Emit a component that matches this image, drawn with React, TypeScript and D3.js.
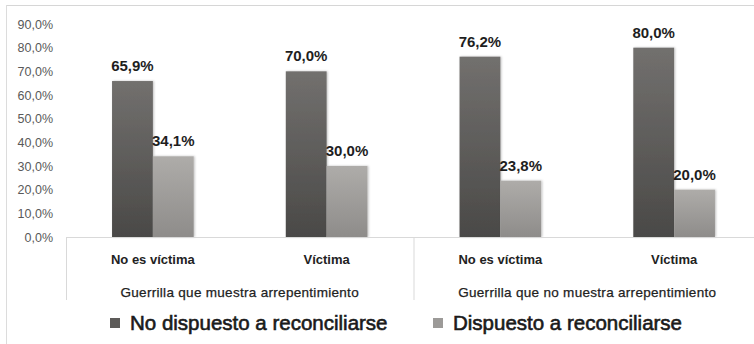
import React from "react";
import * as d3 from "d3";

const groups = ["Guerrilla que muestra arrepentimiento", "Guerrilla que no muestra arrepentimiento"];
const categories = ["No es víctima", "Víctima", "No es víctima", "Víctima"];
const noDispuesto = [65.9, 70.0, 76.2, 80.0];
const dispuesto = [34.1, 30.0, 23.8, 20.0];
const yTicks = [0, 10, 20, 30, 40, 50, 60, 70, 80, 90];
const seriesNames = ["No dispuesto a reconciliarse", "Dispuesto a reconciliarse"];

const fmt = (v: number) => v.toFixed(1).replace(".", ",") + "%";

export default function App() {
  const W = 754, H = 344;
  const plotLeft = 66, plotRight = 761, baseY = 237, topY = 24;
  const y = d3.scaleLinear().domain([0, 90]).range([baseY, topY]);
  const x = d3.scaleBand<number>().domain(categories.map((_, i) => i)).range([plotLeft, plotRight]).paddingInner(0.53).paddingOuter(0.265);
  const barW = x.bandwidth() / 2;
  const series = [noDispuesto, dispuesto];
  const fills = ["url(#gDark)", "url(#gLight)"];
  const legendColors = ["#5d5b59", "#9c9a98"];
  const legendX = [110, 433];
  const font = "'Liberation Sans', Arial, sans-serif";
  return (
    <svg width={W} height={H} style={{ position: "absolute", left: 0, top: 0, background: "#fff" }}>
      <defs>
        <linearGradient id="gDark" x1="0" y1="0" x2="0" y2="1">
          <stop offset="0" stopColor="#72706e" />
          <stop offset="1" stopColor="#4a4947" />
        </linearGradient>
        <linearGradient id="gLight" x1="0" y1="0" x2="0" y2="1">
          <stop offset="0" stopColor="#aeaca9" />
          <stop offset="1" stopColor="#8e8c8a" />
        </linearGradient>
        <filter id="sh" x="-20%" y="-20%" width="140%" height="140%">
          <feDropShadow dx="1" dy="0" stdDeviation="1" floodColor="#000" floodOpacity="0.25" />
        </filter>
      </defs>
      <rect x={0} y={0} width={W} height={H} fill="#fff" />
      <line x1={6} x2={W} y1={5.5} y2={5.5} stroke="#d6d6d6" />
      <line x1={6.5} x2={6.5} y1={5} y2={H} stroke="#dcdcdc" />
      {yTicks.map((t) => (
        <text key={t} x={53} y={y(t) + 4.5} textAnchor="end" fontFamily={font} fontSize={12.5} fill="#595959">
          {fmt(t)}
        </text>
      ))}
      {series.map((vals, s) =>
        vals.map((v, i) => {
          const bx = (x(i) as number) + s * barW;
          return (
            <rect key={`${s}-${i}`} x={bx} y={y(v)} width={barW} height={baseY - y(v)} fill={fills[s]} filter="url(#sh)" />
          );
        })
      )}
      {series.map((vals, s) =>
        vals.map((v, i) => {
          const bx = (x(i) as number) + s * barW;
          return (
            <text key={`l${s}-${i}`} x={bx + barW / 2} y={y(v) - 10} textAnchor="middle" fontFamily={font} fontWeight="bold" fontSize={15} fill="#1e1e1e">
              {fmt(v)}
            </text>
          );
        })
      )}
      <line x1={plotLeft} x2={plotRight} y1={baseY + 0.5} y2={baseY + 0.5} stroke="#d9d9d9" />
      {[0, 1, 2].map((k) => {
        const gx = plotLeft + k * (plotRight - plotLeft) / 2;
        return <line key={k} x1={gx + 0.5} x2={gx + 0.5} y1={baseY} y2={300} stroke="#d9d9d9" />;
      })}
      {categories.map((c, i) => (
        <text key={`c${i}`} x={(x(i) as number) + x.bandwidth() / 2} y={263.5} textAnchor="middle" fontFamily={font} fontWeight="bold" fontSize={13} fill="#222">
          {c}
        </text>
      ))}
      {groups.map((g, i) => {
        const gx = plotLeft + (i + 0.5) * (plotRight - plotLeft) / 2;
        return (
          <text key={`g${i}`} x={gx} y={296.5} textAnchor="middle" fontFamily={font} fontSize={13.5} fill="#222" stroke="#222" strokeWidth={0.25} letterSpacing={0.3}>
            {g}
          </text>
        );
      })}
      {seriesNames.map((n, i) => (
        <g key={`lg${i}`}>
          <rect x={legendX[i]} y={318} width={10} height={10} fill={legendColors[i]} />
          <text x={legendX[i] + 20} y={330} fontFamily={font} fontSize={20.5} fill="#1a1a1a" stroke="#1a1a1a" strokeWidth={0.6}>
            {n}
          </text>
        </g>
      ))}
    </svg>
  );
}
